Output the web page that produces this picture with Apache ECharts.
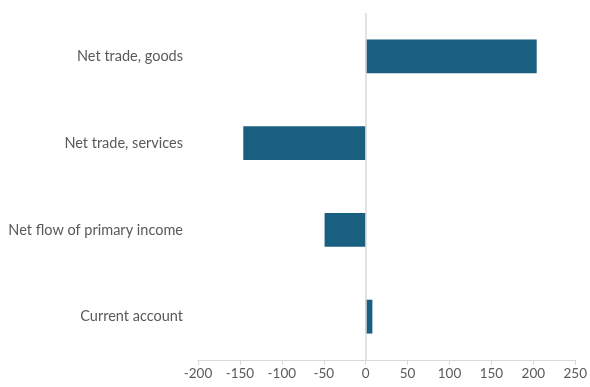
<!DOCTYPE html>
<html>
<head>
<meta charset="utf-8">
<script src="https://cdn.jsdelivr.net/npm/echarts@6/dist/echarts.min.js"></script>
<style>html,body{margin:0;padding:0;background:#fff;}#c{width:590px;height:387px;}</style>
</head>
<body>
<div id="c"></div>
<script>
var categories = ["Current account", "Net flow of primary income", "Net trade, services", "Net trade, goods"];
var values = [8, -49, -146, 204];
var xTicks = { min: -200, max: 250, interval: 50 };

var chart = echarts.init(document.getElementById('c'), null, { renderer: 'canvas' });
chart.setOption({
  animation: false,
  backgroundColor: '#ffffff',
  grid: { left: 198, right: 11, top: 13, bottom: 27, containLabel: false },
  xAxis: {
    type: 'value',
    min: xTicks.min, max: xTicks.max, interval: xTicks.interval,
    axisLine: { show: true, onZero: false, lineStyle: { color: '#d9d9d9', width: 1 } },
    axisTick: { show: true, length: 5, lineStyle: { color: '#d9d9d9' } },
    splitLine: { show: false },
    axisLabel: { color: '#595959', fontSize: 13.5, fontFamily: 'Lato, Liberation Sans, sans-serif', margin: 7 }
  },
  yAxis: {
    type: 'category',
    data: categories,
    axisLine: { show: false },
    axisTick: { show: false },
    axisLabel: { color: '#595959', fontSize: 14.5, fontFamily: 'Lato, Liberation Sans, sans-serif', margin: 15 }
  },
  series: [{
    type: 'bar',
    data: values,
    barWidth: '39%',
    itemStyle: { color: '#195f80' },
    markLine: {
      silent: true,
      symbol: 'none',
      label: { show: false },
      lineStyle: { color: '#d9d9d9', type: 'solid', width: 1.5 },
      data: [{ xAxis: 0 }]
    }
  }]
});
</script>
</body>
</html>
